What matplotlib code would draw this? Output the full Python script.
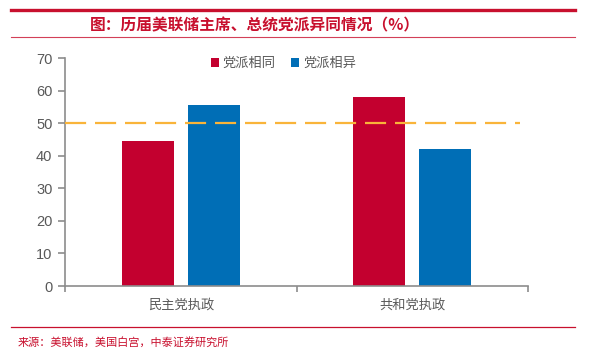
import matplotlib
matplotlib.use("Agg")
import matplotlib.pyplot as plt
import numpy as np
from matplotlib.lines import Line2D

plt.rcParams['font.family'] = ['Noto Sans CJK SC', 'DejaVu Sans']

categories = ['民主党执政', '共和党执政']
series_names = ['党派相同', '党派相异']
same_party = [44.4, 57.9]
diff_party = [55.6, 42.1]
reference_level = 50
yticks = [0, 10, 20, 30, 40, 50, 60, 70]
title = '图：历届美联储主席、总统党派异同情况（%）'
source = '来源：美联储，美国白宫，中泰证券研究所'

red = '#C3002F'
blue = '#006EB6'
orange = '#F9B43A'
gray = '#8C8C8C'
txt = '#595959'
line_red = '#C8102E'

fig = plt.figure(figsize=(5.95, 3.51), dpi=100)
fig.patch.set_facecolor('white')

ax = fig.add_axes([65/595, 1-286/351, (528-65)/595, (286-58)/351])
x = np.arange(len(categories))
w = 0.224
off = 0.142
ax.bar(x - off, same_party, w, color=red, label=series_names[0], zorder=2)
ax.bar(x + off, diff_party, w, color=blue, label=series_names[1], zorder=2)
ax.plot([-0.5, 1.465], [reference_level, reference_level], color=orange, lw=1.6,
        dashes=(9.5, 4), zorder=3)

ax.set_xlim(-0.5, 1.5)
ax.set_ylim(0, 70)
ax.set_yticks(yticks)
ax.set_yticklabels([str(v) for v in yticks], fontsize=10.5, color=txt, family='Liberation Sans')
ax.set_xticks([-0.5, 0.5, 1.5])
ax.set_xticklabels([])
ax.set_xticks(x, minor=True)
ax.set_xticklabels(categories, minor=True, fontsize=9.5, color=txt)
ax.tick_params(axis='x', which='minor', length=0, pad=9)
ax.tick_params(axis='x', which='major', length=4, width=1.2, color=gray, direction='out')
ax.tick_params(axis='y', length=5, width=1.2, color=gray, direction='out', pad=4)
for s in ['top', 'right']:
    ax.spines[s].set_visible(False)
for s in ['left', 'bottom']:
    ax.spines[s].set_color(gray)
    ax.spines[s].set_linewidth(1.2)
ax.patch.set_alpha(0)

leg = ax.legend(loc='upper left', bbox_to_anchor=(0.289, 1.055), ncol=2, frameon=False,
                fontsize=9.5, handlelength=0.6, handleheight=0.6, handletextpad=0.3,
                columnspacing=1.2)
for t in leg.get_texts():
    t.set_color(txt)

# decorative lines
fig.add_artist(Line2D([11/595, 575/595], [1-9.5/351, 1-9.5/351], color=line_red, lw=2.4))
fig.add_artist(Line2D([11/595, 575/595], [1-37/351, 1-37/351], color=line_red, lw=0.8, alpha=0.8))
fig.add_artist(Line2D([11/595, 575/595], [1-327/351, 1-327/351], color=line_red, lw=0.9))

fig.text(255/595, 1-25/351, title, ha='center', va='center', fontsize=11.3, color=line_red,
         fontweight='bold')
fig.text(18/595, 1-342/351, source, ha='left', va='center', fontsize=8, color=line_red)

fig.savefig('out.png', dpi=100)
